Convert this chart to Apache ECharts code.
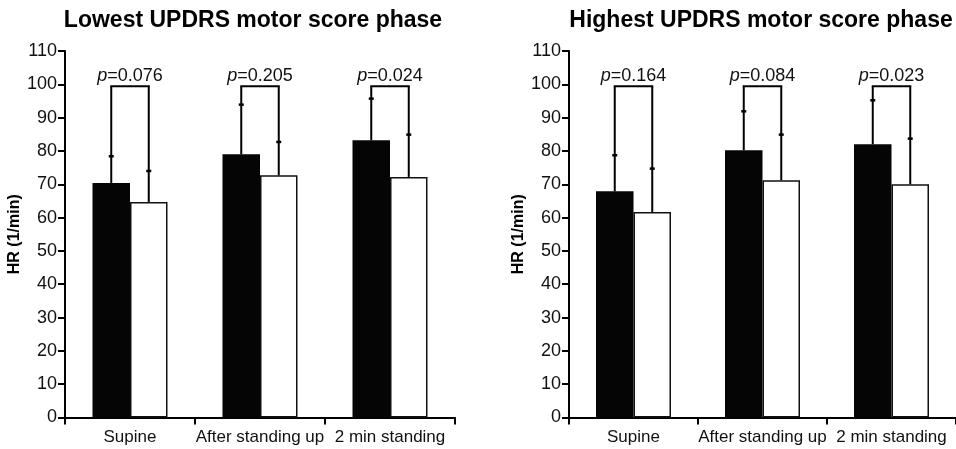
<!DOCTYPE html>
<html>
<head>
<meta charset="utf-8">
<title>HR by UPDRS motor score phase</title>
<script src="https://cdn.jsdelivr.net/npm/echarts@6/dist/echarts.min.js"></script>
<style>
  html, body { margin: 0; padding: 0; background: #fff; }
  #chart { width: 956px; height: 449px; }
</style>
</head>
<body>
<div id="chart"></div>
<script>
// categories and tick labels
var categories = ['Supine', 'After standing up', '2 min standing'];
var yTicks = [0, 10, 20, 30, 40, 50, 60, 70, 80, 90, 100, 110];

// lowest UPDRS phase: black / white bar means and top of error bars
var lowBlack = [70.4, 79.0, 83.2];
var lowWhite = [64.7, 72.7, 72.2];
var lowBlackErr = [78.4, 93.9, 95.7];
var lowWhiteErr = [74.0, 82.7, 84.9];
var lowBracket = [99.4, 99.4, 99.4];
var lowP = ['0.076', '0.205', '0.024'];

// highest UPDRS phase
var highBlack = [67.9, 80.2, 82.0];
var highWhite = [61.7, 71.2, 70.0];
var highBlackErr = [78.7, 91.9, 95.2];
var highWhiteErr = [74.7, 84.9, 83.7];
var highBracket = [99.4, 99.4, 99.4];
var highP = ['0.164', '0.084', '0.023'];

var FONT = '"Liberation Sans", Arial, Helvetica, sans-serif';
var BAR_W = 37.5;

/**
 * rows for the custom series: [catIndex, blackMean, whiteMean, blackErr, whiteErr, bracket]
 */
function bracketRows(black, white, bErr, wErr, br){
    var rows = [];
    for(var i = 0; i < categories.length; i++){
        rows.push([i, black[i], white[i], bErr[i], wErr[i], br[i]]);
    }
    return rows;
}

function makeRender(pvals){
    return function(params, api){
        var i = api.value(0);
        var xc = api.coord([i, 0])[0];
        var xb = xc - BAR_W / 2, xw = xc + BAR_W / 2;
        var yB = api.coord([i, api.value(1)])[1];
        var yW = api.coord([i, api.value(2)])[1];
        var yBe = api.coord([i, api.value(3)])[1];
        var yWe = api.coord([i, api.value(4)])[1];
        var yBr = api.coord([i, api.value(5)])[1];
        var ls = {stroke: '#000', lineWidth: 2, fill: null};
        var cap = {stroke: '#000', lineWidth: 2.5, fill: null};
        return {
            type: 'group',
            children: [
                {type: 'line', shape: {x1: xb, y1: yB, x2: xb, y2: yBr}, style: ls},
                {type: 'line', shape: {x1: xw, y1: yW, x2: xw, y2: yBr}, style: ls},
                {type: 'line', shape: {x1: xb - 1, y1: yBr, x2: xw + 1, y2: yBr}, style: ls},
                {type: 'line', shape: {x1: xb - 2.5, y1: yBe, x2: xb + 2.5, y2: yBe}, style: cap},
                {type: 'line', shape: {x1: xw - 2.5, y1: yWe, x2: xw + 2.5, y2: yWe}, style: cap},
                {
                    type: 'text',
                    x: xc, y: yBr - 10.5,
                    style: {
                        text: '{i|p}=' + pvals[params.dataIndex],
                        fontSize: 18, fontFamily: FONT, fill: '#111',
                        align: 'center', verticalAlign: 'middle',
                        rich: {i: {fontStyle: 'italic', fontSize: 18, fontFamily: FONT, fill: '#111'}}
                    }
                }
            ]
        };
    };
}

function xAxisFor(idx){
    return {
        type: 'category', gridIndex: idx, data: categories,
        axisLine: {lineStyle: {color: '#000', width: 2}},
        axisTick: {show: true, length: 7, alignWithLabel: false, lineStyle: {color: '#000', width: 2}},
        axisLabel: {color: '#111', fontSize: 17, fontFamily: FONT, margin: 11, interval: 0}
    };
}

function yAxisFor(idx){
    return {
        type: 'value', gridIndex: idx, min: 0, max: 110, interval: 10,
        name: 'HR (1/min)', nameLocation: 'middle', nameGap: 40,
        nameTextStyle: {color: '#000', fontSize: 16, fontWeight: 'bold', fontFamily: FONT},
        axisLine: {show: true, lineStyle: {color: '#000', width: 2}},
        axisTick: {show: true, length: 7, lineStyle: {color: '#000', width: 2}},
        axisLabel: {color: '#111', fontSize: 18, fontFamily: FONT, margin: 8,
            formatter: function(v){ return yTicks.indexOf(v) >= 0 ? String(v) : ''; }},
        splitLine: {show: false}
    };
}

function barPair(idx, black, white){
    return [
        {type: 'bar', xAxisIndex: idx, yAxisIndex: idx, data: black, barWidth: BAR_W, barGap: '0%',
            itemStyle: {color: '#050505'}, silent: true},
        {type: 'bar', xAxisIndex: idx, yAxisIndex: idx, data: white, barWidth: BAR_W, barGap: '0%',
            itemStyle: {color: '#fff', borderColor: '#111', borderWidth: 1.5}, silent: true}
    ];
}

var chart = echarts.init(document.getElementById('chart'));

var option = {
    animation: false,
    backgroundColor: '#fff',
    title: [
        {text: 'Lowest UPDRS motor score phase', left: 248, top: 4, textAlign: 'center',
            textStyle: {fontSize: 23, fontWeight: 'bold', fontFamily: FONT, color: '#000'}},
        {text: 'Highest UPDRS motor score phase', left: 756, top: 4, textAlign: 'center',
            textStyle: {fontSize: 23, fontWeight: 'bold', fontFamily: FONT, color: '#000'}}
    ],
    grid: [
        {left: 65, width: 390, top: 51, height: 366.5},
        {left: 569, width: 390, top: 51, height: 366.5}
    ],
    xAxis: [xAxisFor(0), xAxisFor(1)],
    yAxis: [yAxisFor(0), yAxisFor(1)],
    series: [].concat(
        barPair(0, lowBlack, lowWhite),
        barPair(1, highBlack, highWhite),
        [
            {type: 'custom', xAxisIndex: 0, yAxisIndex: 0, z: 5, silent: true,
                renderItem: makeRender(lowP),
                encode: {x: 0, y: [1, 2, 3, 4, 5]},
                data: bracketRows(lowBlack, lowWhite, lowBlackErr, lowWhiteErr, lowBracket)},
            {type: 'custom', xAxisIndex: 1, yAxisIndex: 1, z: 5, silent: true,
                renderItem: makeRender(highP),
                encode: {x: 0, y: [1, 2, 3, 4, 5]},
                data: bracketRows(highBlack, highWhite, highBlackErr, highWhiteErr, highBracket)}
        ]
    )
};

chart.setOption(option);
</script>
</body>
</html>
